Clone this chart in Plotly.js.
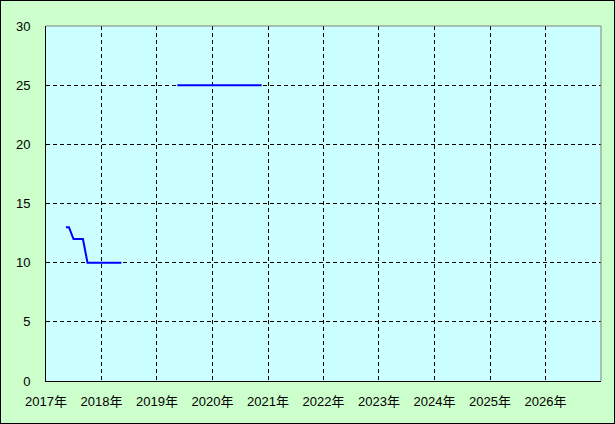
<!DOCTYPE html>
<html><head><meta charset="utf-8">
<script src="https://cdn.plot.ly/plotly-3.0.1.min.js"></script>
<style>html,body{margin:0;padding:0;background:#ccffcc}#wrap{position:relative;width:615px;height:424px}#frame{position:absolute;left:0;top:0;width:615px;height:424px;box-sizing:border-box;border:1px solid #000;pointer-events:none}</style>
</head><body><div id="wrap"><div id="chart" style="width:615px;height:424px"></div><div id="frame"></div></div>
<script>
const s1Dates = ["2017-05-12","2017-06-01","2017-07-01","2017-08-01","2017-09-01","2017-10-01","2017-11-01","2017-12-01","2018-01-01","2018-02-01","2018-03-01","2018-04-01","2018-05-01","2018-05-12"];
const s1Values = [13,13,12,12,12,10,10,10,10,10,10,10,10,10];
const s2Dates = ["2019-05-15","2020-11-20"];
const s2Values = [25,25];
const tickYears = ["2017","2018","2019","2020","2021","2022","2023","2024","2025","2026"];
const tickVals = tickYears.map(y => y + "-01-01");
const tickText = tickYears.map(y => y + "年");

const lineStyle = {color:"#0000ff", width:2};
const data = [
  {x:s1Dates, y:s1Values, type:"scatter", mode:"lines", line:lineStyle, hoverinfo:"skip"},
  {x:s2Dates, y:s2Values, type:"scatter", mode:"lines", line:lineStyle, hoverinfo:"skip"}
];
const font = {family:"'Liberation Sans', 'Noto Sans CJK JP', sans-serif", size:13, color:"#000"};
const layout = {
  width:615, height:424,
  margin:{l:46, r:14, t:26, b:43, pad:0},
  paper_bgcolor:"#ccffcc", plot_bgcolor:"#ccffff",
  showlegend:false, font:font,
  xaxis:{type:"date", range:["2017-01-01","2027-01-01"], tickvals:tickVals, ticktext:tickText,
    showgrid:true, gridcolor:"#000", griddash:"4px,3px", gridwidth:1,
    showline:true, linecolor:"#000", linewidth:1, ticks:"", ticklabelstandoff:8, zeroline:false, fixedrange:true},
  yaxis:{range:[0,30], dtick:5, tick0:0,
    showgrid:true, gridcolor:"#000", griddash:"4px,3px", gridwidth:1,
    showline:true, linecolor:"#000", linewidth:1, ticks:"", ticklabelstandoff:12, zeroline:false, fixedrange:true},
  shapes:[
    {type:"line", xref:"paper", yref:"paper", x0:0, x1:1, y0:1, y1:1, line:{color:"#808080", width:1}},
    {type:"line", xref:"paper", yref:"paper", x0:1, x1:1, y0:0, y1:1, line:{color:"#808080", width:1}}
  ]
};
Plotly.newPlot("chart", data, layout, {displayModeBar:false, staticPlot:true});
</script></body></html>
